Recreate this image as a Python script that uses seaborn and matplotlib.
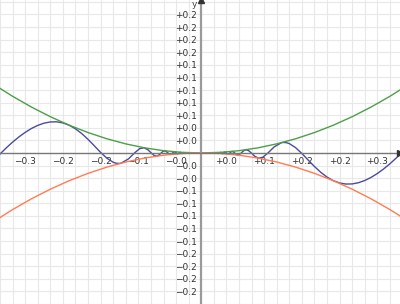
import numpy as np
import pandas as pd
import matplotlib
matplotlib.use("Agg")
import matplotlib.pyplot as plt
import seaborn as sns

# ---- data ----
parab_x = [-0.33, -0.30, -0.27, -0.24, -0.21, -0.18, -0.15, -0.12, -0.09, -0.06, -0.03, 0.0,
           0.03, 0.06, 0.09, 0.12, 0.15, 0.18, 0.21, 0.24, 0.27, 0.30, 0.33]
upper_y = [0.1089, 0.09, 0.0729, 0.0576, 0.0441, 0.0324, 0.0225, 0.0144, 0.0081, 0.0036, 0.0009, 0.0,
           0.0009, 0.0036, 0.0081, 0.0144, 0.0225, 0.0324, 0.0441, 0.0576, 0.0729, 0.09, 0.1089]
lower_y = [-0.1089, -0.09, -0.0729, -0.0576, -0.0441, -0.0324, -0.0225, -0.0144, -0.0081, -0.0036, -0.0009, 0.0,
           -0.0009, -0.0036, -0.0081, -0.0144, -0.0225, -0.0324, -0.0441, -0.0576, -0.0729, -0.09, -0.1089]

wave_x = [-0.33, -0.32, -0.31, -0.30, -0.29, -0.28, -0.27, -0.26, -0.25, -0.24, -0.23, -0.22, -0.21,
          -0.20, -0.19, -0.18, -0.17, -0.16, -0.15, -0.14, -0.135, -0.13, -0.127324,
          -0.115749, -0.106103, -0.097942, -0.090946, -0.084883, -0.079578, -0.074897, -0.070736,
          -0.067013, -0.063662, -0.060630, -0.057875, -0.055358, -0.053052, -0.050930, -0.048971,
          -0.047157, -0.045473, -0.043905, -0.042441, -0.041072, -0.039789, -0.038583, -0.037448,
          -0.036378, -0.035368, -0.033506, -0.031831, -0.030315, -0.028937, -0.027679, -0.026526,
          -0.025465, -0.024485, -0.023579, -0.022736, 0.0,
          0.022736, 0.023579, 0.024485, 0.025465, 0.026526, 0.027679, 0.028937, 0.030315, 0.031831,
          0.033506, 0.035368, 0.036378, 0.037448, 0.038583, 0.039789, 0.041072, 0.042441, 0.043905,
          0.045473, 0.047157, 0.048971, 0.050930, 0.053052, 0.055358, 0.057875, 0.060630, 0.063662,
          0.067013, 0.070736, 0.074897, 0.079578, 0.084883, 0.090946, 0.097942, 0.106103, 0.115749,
          0.127324, 0.13, 0.135, 0.14, 0.15, 0.16, 0.17, 0.18, 0.19, 0.20,
          0.21, 0.22, 0.23, 0.24, 0.25, 0.26, 0.27, 0.28, 0.29, 0.30, 0.31, 0.32, 0.33]
wave_y = [-0.0121, -0.0017, 0.00808, 0.01716, 0.02539, 0.03267, 0.03886, 0.04377, 0.0473, 0.04924,
          0.04943, 0.04773, 0.04405, 0.03836, 0.03076, 0.02155, 0.01128, 0.00085, -0.00842, -0.01485,
          -0.01644, -0.01668, -0.016211,
          -0.009474, 0.0, 0.006783, 0.008271, 0.005095, 0.0, -0.003967, -0.005004,
          -0.003175, 0.0, 0.002599, 0.003349, 0.002167, 0.0, -0.001834, -0.002398,
          -0.001572, 0.0, 0.001363, 0.001801, 0.001193, 0.0, -0.001053, -0.001402,
          -0.000936, 0.0, 0.001123, 0.0, -0.000919, 0.0, 0.000766, 0.0,
          -0.000648, 0.0, 0.000556, 0.0, 0.0,
          0.0, -0.000556, 0.0, 0.000648, 0.0, -0.000766, 0.0, 0.000919, 0.0,
          -0.001123, 0.0, 0.000936, 0.001402, 0.001053, 0.0, -0.001193, -0.001801, -0.001363,
          0.0, 0.001572, 0.002398, 0.001834, 0.0, -0.002167, -0.003349, -0.002599, 0.0,
          0.003175, 0.005004, 0.003967, 0.0, -0.005095, -0.008271, -0.006783, 0.0, 0.009474,
          0.016211, 0.01668, 0.01644, 0.01485, 0.00842, -0.00085, -0.01128, -0.02155, -0.03076, -0.03836,
          -0.04405, -0.04773, -0.04943, -0.04924, -0.0473, -0.04377, -0.03886, -0.03267, -0.02539,
          -0.01716, -0.00808, 0.0017, 0.0121]

grid_vals = [-0.32, -0.30, -0.28, -0.26, -0.24, -0.22, -0.20, -0.18, -0.16, -0.14, -0.12, -0.10,
             -0.08, -0.06, -0.04, -0.02, 0.02, 0.04, 0.06, 0.08, 0.10, 0.12, 0.14, 0.16, 0.18,
             0.20, 0.22, 0.24, 0.26, 0.28, 0.30]
x_label_vals = [-0.28, -0.22, -0.16, -0.10, -0.04, 0.04, 0.10, 0.16, 0.22, 0.28]
x_label_txt = ["\u22120.3", "\u22120.2", "\u22120.2", "\u22120.1", "\u22120.0",
               "+0.0", "+0.1", "+0.2", "+0.2", "+0.3"]
y_label_vals = [-0.22, -0.20, -0.18, -0.16, -0.14, -0.12, -0.10, -0.08, -0.06, -0.04, -0.02,
                0.02, 0.04, 0.06, 0.08, 0.10, 0.12, 0.14, 0.16, 0.18, 0.20, 0.22]
y_label_txt = ["\u22120.2", "\u22120.2", "\u22120.2", "\u22120.2", "\u22120.1", "\u22120.1",
               "\u22120.1", "\u22120.1", "\u22120.1", "\u22120.0", "\u22120.0",
               "+0.0", "+0.0", "+0.1", "+0.1", "+0.1", "+0.1", "+0.1", "+0.2", "+0.2", "+0.2", "+0.2"]

# ---- drawing ----
sns.set_style("white")
plt.rcParams["font.family"] = ["DejaVu Sans"]

fig = plt.figure(figsize=(4.0, 3.04), dpi=100)
ax = fig.add_axes([0, 0, 1, 1])

ax.set_xlim(-0.319, 0.316)
ax.set_ylim(-0.240, 0.243)

# grid
for v in grid_vals:
    ax.axvline(v, color="#e8e8e8", lw=0.8, zorder=0)
    ax.axhline(v, color="#e8e8e8", lw=0.8, zorder=0)

wave_df = pd.DataFrame({"x": wave_x, "y": wave_y})
up_df = pd.DataFrame({"x": parab_x, "y": upper_y})
lo_df = pd.DataFrame({"x": parab_x, "y": lower_y})

sns.lineplot(data=wave_df, x="x", y="y", sort=False, estimator=None, color="#4b4b9e", lw=1.0, ax=ax, zorder=3)
sns.lineplot(data=up_df, x="x", y="y", sort=False, estimator=None, color="#4c9f48", lw=1.0, ax=ax, zorder=3)
sns.lineplot(data=lo_df, x="x", y="y", sort=False, estimator=None, color="#ff7c52", lw=1.0, ax=ax, zorder=3)

ax.set_xlabel("")
ax.set_ylabel("")

# axes through origin
for s in ["top", "right"]:
    ax.spines[s].set_visible(False)
ax.spines["left"].set_position(("data", 0))
ax.spines["bottom"].set_position(("data", 0))
ax.spines["left"].set_color("#9a9a9a")
ax.spines["left"].set_linewidth(1.6)
ax.spines["bottom"].set_color("#777777")
ax.spines["bottom"].set_linewidth(1.0)
ax.spines["left"].set_zorder(4)
ax.spines["bottom"].set_zorder(4)

ax.set_xticks(grid_vals)
ax.set_xticklabels([x_label_txt[x_label_vals.index(v)] if v in x_label_vals else "" for v in grid_vals])
ax.set_yticks(y_label_vals)
ax.set_yticklabels(y_label_txt)
ax.tick_params(axis="x", direction="inout", length=4, width=0.8, color="#555555",
               labelsize=6.5, pad=1, labelcolor="#333333")
ax.tick_params(axis="y", direction="inout", length=4, width=0.8, color="#555555",
               labelsize=6.5, pad=1, labelcolor="#333333")

# arrow heads
ax.plot(1, 0, marker=">", color="#333333", ms=4, transform=ax.get_yaxis_transform(), clip_on=False, zorder=5)
ax.plot(0, 1, marker="^", color="#333333", ms=4, transform=ax.get_xaxis_transform(), clip_on=False, zorder=5)
ax.text(-0.006, 0.2435, "y", ha="right", va="top", fontsize=6.5, color="#444444")

fig.savefig("out.png", dpi=100)
